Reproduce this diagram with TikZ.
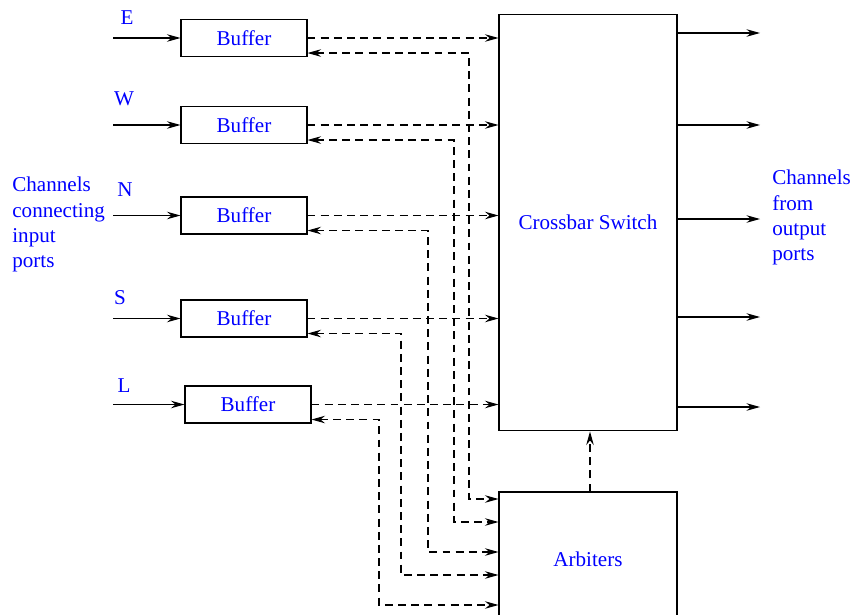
\documentclass[tikz,border=0pt]{standalone}
\usepackage{fontspec}
\setmainfont{Liberation Serif}
\usetikzlibrary{arrows.meta,positioning}

\begin{document}
\begin{tikzpicture}[x=0.02cm,y=-0.02cm]
\tikzset{
  txt/.style={text=blue,font=\fontsize{12}{14.4}\selectfont},
  bufbox/.style={rectangle,draw,line width=0.6pt,minimum width=2.52cm,minimum height=0.74cm,inner sep=0pt,txt},
  bigbox/.style={rectangle,draw,line width=0.6pt,minimum width=3.56cm,inner sep=0pt,txt},
  lbl/.style={inner sep=0pt,txt},
  solidarrow/.style={-{Stealth[length=2.7mm,width=1.5mm,inset=0.9mm]},line width=0.6pt},
  dasharrow/.style={solidarrow,dash pattern=on 4.5pt off 3pt},
  twoway/.style={{Stealth[length=2.7mm,width=1.5mm,inset=0.9mm]}-{Stealth[length=2.7mm,width=1.5mm,inset=0.9mm]},line width=0.6pt,dash pattern=on 4.5pt off 3pt}
}
\useasboundingbox (0,0) rectangle (852,615);
% boxes
\node[bigbox,minimum height=8.34cm] (xbar) at (588,222.5) {Crossbar Switch};
\node[bigbox,minimum height=2.68cm] (arb) at (588,559) {Arbiters};
\node[bufbox] (bE) at (244,38) {Buffer};
\node[bufbox] (bW) at (244,125) {Buffer};
\node[bufbox] (bN) at (244,215.5) {Buffer};
\node[bufbox] (bS) at (244,318.5) {Buffer};
\node[bufbox] (bL) at (248,404.5) {Buffer};
% port labels
\node[lbl] (lE) at (127,18) {E};
\node[lbl] (lW) at (124,99) {W};
\node[lbl] (lN) at (125,190) {N};
\node[lbl] (lS) at (120,298) {S};
\node[lbl] (lL) at (124,386) {L};
\node[lbl,align=left,anchor=north west] (lin) at (12,177) {Channels\\connecting\\input\\ports};
\node[lbl,align=left,anchor=north west] (lout) at (772,170) {Channels\\from\\output\\ports};
% input channels
\coordinate (iE) at (113,38);
\coordinate (iW) at (113,125);
\coordinate (iN) at (113,215.5);
\coordinate (iS) at (113,318.5);
\coordinate (iL) at (113,404.5);
\draw[solidarrow] (iE) -- (bE.west);
\draw[solidarrow] (iW) -- (bW.west);
\draw[solidarrow] (iN) -- (bN.west);
\draw[solidarrow] (iS) -- (bS.west);
\draw[solidarrow] (iL) -- (bL.west);
% buffers to crossbar
\draw[dasharrow] (bE.east) -- (bE.east -| xbar.west);
\draw[dasharrow] (bW.east) -- (bW.east -| xbar.west);
\draw[dasharrow] (bN.east) -- (bN.east -| xbar.west);
\draw[dasharrow] (bS.east) -- (bS.east -| xbar.west);
\draw[dasharrow] (bL.east) -- (bL.east -| xbar.west);
% requests between buffers and arbiters
\coordinate (vE) at (469,499);
\coordinate (vW) at (454,522);
\coordinate (vN) at (428,552);
\coordinate (vS) at (401,575);
\coordinate (vL) at (379,605);
\draw[twoway] ([yshift=0.08cm]bE.south east) -| (vE) -- (vE -| arb.west);
\draw[twoway] ([yshift=0.08cm]bW.south east) -| (vW) -- (vW -| arb.west);
\draw[twoway] ([yshift=0.08cm]bN.south east) -| (vN) -- (vN -| arb.west);
\draw[twoway] ([yshift=0.08cm]bS.south east) -| (vS) -- (vS -| arb.west);
\draw[twoway] ([yshift=0.08cm]bL.south east) -| (vL) -- (vL -| arb.west);
\draw[dasharrow] ([xshift=0.04cm]arb.north) -- ([xshift=0.04cm]xbar.south);
% output channels
\coordinate (oE) at (760,33);
\coordinate (oW) at (760,125);
\coordinate (oN) at (760,219);
\coordinate (oS) at (760,317);
\coordinate (oL) at (760,407);
\draw[solidarrow] (xbar.east |- oE) -- (oE);
\draw[solidarrow] (xbar.east |- oW) -- (oW);
\draw[solidarrow] (xbar.east |- oN) -- (oN);
\draw[solidarrow] (xbar.east |- oS) -- (oS);
\draw[solidarrow] (xbar.east |- oL) -- (oL);
\end{tikzpicture}
\end{document}
